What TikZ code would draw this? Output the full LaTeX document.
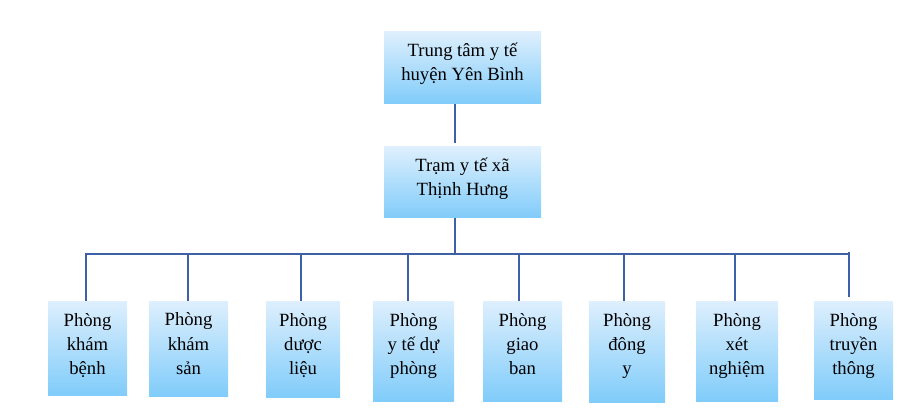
\documentclass[tikz,border=0pt]{standalone}
\usepackage{fontspec}
\setmainfont{Liberation Serif}
\usetikzlibrary{calc}
\definecolor{boxtop}{RGB}{222,239,253}
\definecolor{boxbot}{RGB}{128,204,250}
\definecolor{linkblue}{RGB}{62,96,168}
\def\cell(#1:#2)#3{\parbox[c][#2][t]{#1}{\centering\rule{0pt}{18.75pt}#3}}
\tikzset{
  room/.style={inner sep=0pt, top color=boxtop, bottom color=boxbot, font=\fontsize{14pt}{18pt}\selectfont},
  link/.style={line width=1.5pt, color=linkblue}
}

\begin{document}
\begin{tikzpicture}[x=0.75pt,y=-0.75pt]
			%%%%% START %%%%%
			\useasboundingbox (0,0) rectangle (906,413);
			
			\node[room] (ttyt) at (462.5, 68) {\cell(117.75pt:54pt){Trung tâm y tế\\huyện Yên Bình}};
			\node[room] (tram) at (462.5, 182.5) {\cell(117.75pt:53.25pt){Trạm y tế xã\\Thịnh Hưng}};
			
			\node[room] (kb) at (87.5, 348) {\cell(59.25pt:70.5pt){Phòng\\khám\\bệnh}};
			\node[room] (ks) at (188.5, 348.5) {\cell(59.25pt:71.25pt){Phòng\\khám\\sản}};
			\node[room] (dl) at (303, 349) {\cell(55.5pt:72pt){Phòng\\dược\\liệu}};
			\node[room] (yt) at (413.5, 351) {\cell(60.75pt:75pt){Phòng\\y tế dự\\phòng}};
			\node[room] (gb) at (522.5, 351) {\cell(59.25pt:75pt){Phòng\\giao\\ban}};
			\node[room] (dy) at (627, 351.5) {\cell(57pt:75.75pt){Phòng\\đông\\y}};
			\node[room] (xn) at (737, 351) {\cell(61.5pt:75pt){Phòng\\xét\\nghiệm}};
			\node[room] (tt) at (853.5, 350) {\cell(59.25pt:73.5pt){Phòng\\truyền\\thông}};
			
			\coordinate (jn) at (455, 254.5);
			\foreach \x [count=\i] in {86,188,301,408,519,624,735,849}
				\coordinate (b\i) at (\x, 254.5);
			
			\draw[link, shorten >=3pt] (ttyt.south -| jn) -- (tram.north -| jn);
			\draw[link] (tram.south -| jn) -- (jn);
			
			\draw[link] (kb.north -| b1) -- (b1) -- (b8);
			\foreach \i/\r in {2/ks,3/dl,4/yt,5/gb,6/dy,7/xn}
				\draw[link] (b\i) -- (\r.north -| b\i);
			\draw[link, shorten <=-2pt, shorten >=3pt] (b8) -- (tt.north -| b8);
			
			%%%%% END %%%%%
\end{tikzpicture}
\end{document}
